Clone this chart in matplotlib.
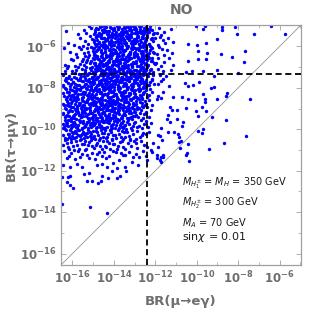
import numpy as np
import matplotlib
matplotlib.use("Agg")
import matplotlib.pyplot as plt
from matplotlib.ticker import FixedLocator, FuncFormatter, NullFormatter

# ---- data: (log10 BR(mu->e gamma), log10 BR(tau->mu gamma)) ----
band_50 = [(-16.31,-5.27),(-15.72,-5.41),(-15.08,-5.13),(-15.36,-5.38),(-15.21,-5.04),(-15.45,-5.22),
 (-14.52,-5.31),(-14.67,-5.08),(-14.81,-5.45),(-14.93,-5.19),(-14.59,-5.02),(-14.74,-5.36),(-14.88,-5.12),(-14.63,-5.47),(-14.97,-5.41),
 (-14.04,-5.22),(-14.18,-5.05),(-14.33,-5.39),(-14.46,-5.14),(-14.11,-5.46),(-14.27,-5.28),(-14.41,-5.01),(-14.09,-5.35),(-14.38,-5.24),(-14.22,-5.43),(-14.49,-5.33),
 (-13.51,-5.09),(-13.66,-5.33),(-13.79,-5.18),(-13.92,-5.44),(-13.57,-5.26),(-13.84,-5.03),(-13.71,-5.47),(-13.98,-5.21),(-13.62,-5.14),(-13.88,-5.31),(-13.75,-5.39),(-13.54,-5.42),
 (-13.03,-5.17),(-13.19,-5.41),(-13.31,-5.06),(-13.44,-5.29),(-13.12,-5.35),(-13.26,-5.22),(-13.39,-5.48),(-13.07,-5.02),(-13.48,-5.11),(-13.23,-5.04),(-13.35,-5.37),(-13.15,-5.26),
 (-12.53,-5.12),(-12.68,-5.36),(-12.81,-5.04),(-12.94,-5.28),(-12.59,-5.45),(-12.74,-5.19),(-12.87,-5.41),(-12.99,-5.08),(-12.62,-5.24),(-12.77,-5.31),(-12.91,-5.16),(-12.56,-5.38),
 (-12.43,-5.07),(-12.29,-5.33),(-12.41,-5.44),(-12.17,-5.21),(-12.35,-5.15),(-12.06,-5.38),(-12.47,-5.26),(-12.24,-5.02),
 (-11.58,-5.29),(-11.83,-5.11),(-11.71,-5.43),(-11.94,-5.35),(-11.26,-5.18)]
band_55 = [(-16.22,-5.83),(-15.63,-5.58),(-15.91,-5.92),
 (-15.04,-5.66),(-15.27,-5.89),(-15.14,-5.52),(-15.39,-5.74),(-15.47,-5.97),
 (-14.55,-5.61),(-14.71,-5.84),(-14.86,-5.53),(-14.98,-5.77),(-14.62,-5.95),(-14.79,-5.69),(-14.91,-5.88),(-14.53,-5.79),(-14.68,-5.51),(-14.84,-5.99),
 (-14.07,-5.56),(-14.21,-5.78),(-14.34,-5.63),(-14.47,-5.91),(-14.13,-5.86),(-14.28,-5.54),(-14.42,-5.72),(-14.02,-5.94),(-14.16,-5.67),(-14.39,-5.98),(-14.25,-5.89),(-14.49,-5.59),
 (-13.53,-5.71),(-13.67,-5.55),(-13.82,-5.87),(-13.95,-5.62),(-13.59,-5.96),(-13.74,-5.78),(-13.89,-5.51),(-13.64,-5.83),(-13.97,-5.93),(-13.78,-5.66),(-13.56,-5.58),(-13.86,-5.74),
 (-13.05,-5.64),(-13.18,-5.86),(-13.32,-5.53),(-13.46,-5.77),(-13.11,-5.95),(-13.27,-5.71),(-13.41,-5.92),(-13.02,-5.81),(-13.36,-5.59),(-13.22,-5.51),(-13.49,-5.68),(-13.14,-5.73),
 (-12.51,-5.76),(-12.66,-5.54),(-12.79,-5.89),(-12.93,-5.63),(-12.57,-5.94),(-12.72,-5.69),(-12.85,-5.57),(-12.98,-5.85),(-12.61,-5.61),(-12.76,-5.98),(-12.89,-5.72),(-12.54,-5.84),
 (-12.45,-5.62),(-12.32,-5.87),(-12.39,-5.53),(-12.12,-5.74),(-12.27,-5.96),(-12.48,-5.79),(-12.03,-5.58),(-12.21,-5.66),
 (-11.62,-5.69),(-11.87,-5.93),(-11.54,-5.82),(-11.78,-5.55),(-11.14,-5.77),(-11.39,-5.61)]
band_60 = [(-16.12,-6.28),(-16.41,-6.07),(-15.57,-6.14),(-15.82,-6.39),(-15.69,-6.02),
 (-15.03,-6.21),(-15.18,-6.44),(-15.31,-6.09),(-15.44,-6.33),(-15.11,-6.03),(-15.26,-6.26),(-15.38,-6.47),
 (-14.51,-6.04),(-14.64,-6.29),(-14.78,-6.13),(-14.92,-6.41),(-14.57,-6.36),(-14.71,-6.01),(-14.85,-6.23),(-14.99,-6.08),(-14.61,-6.17),(-14.83,-6.46),(-14.95,-6.31),
 (-14.03,-6.12),(-14.17,-6.37),(-14.31,-6.05),(-14.44,-6.28),(-14.09,-6.44),(-14.23,-6.19),(-14.37,-6.41),(-14.48,-6.02),(-14.14,-6.25),(-14.29,-6.48),(-14.41,-6.15),(-14.06,-6.33),
 (-13.52,-6.23),(-13.65,-6.07),(-13.81,-6.38),(-13.94,-6.16),(-13.58,-6.43),(-13.72,-6.29),(-13.87,-6.04),(-13.99,-6.34),(-13.61,-6.11),(-13.77,-6.46),(-13.91,-6.26),(-13.55,-6.35),
 (-13.04,-6.31),(-13.17,-6.09),(-13.33,-6.42),(-13.47,-6.18),(-13.09,-6.05),(-13.24,-6.27),(-13.38,-6.01),(-13.01,-6.45),(-13.29,-6.36),(-13.43,-6.49),(-13.13,-6.14),(-13.21,-6.39),
 (-12.52,-6.17),(-12.65,-6.41),(-12.82,-6.06),(-12.96,-6.29),(-12.58,-6.02),(-12.71,-6.33),(-12.86,-6.45),(-12.93,-6.13),(-12.63,-6.24),(-12.78,-6.19),(-12.89,-6.37),(-12.55,-6.48),
 (-12.44,-6.21),(-12.36,-6.46),(-12.18,-6.08),(-12.31,-6.31),(-12.47,-6.03),(-12.09,-6.27),(-12.26,-6.16),(-12.41,-6.38),
 (-11.66,-6.12),(-11.92,-6.35),(-11.57,-6.42),(-11.81,-6.05),(-11.21,-6.31),(-11.44,-6.18)]
band_65 = [(-16.08,-6.62),(-16.34,-6.88),(-16.19,-6.97),
 (-15.54,-6.71),(-15.77,-6.53),(-15.88,-6.94),(-15.61,-6.86),(-15.96,-6.66),
 (-15.02,-6.57),(-15.16,-6.81),(-15.29,-6.64),(-15.42,-6.92),(-15.07,-6.99),(-15.23,-6.52),(-15.35,-6.76),(-15.48,-6.61),(-15.12,-6.73),
 (-14.54,-6.68),(-14.66,-6.91),(-14.81,-6.55),(-14.94,-6.79),(-14.58,-6.52),(-14.73,-6.84),(-14.87,-6.97),(-14.97,-6.63),(-14.62,-6.74),(-14.76,-6.59),(-14.89,-6.88),(-14.52,-6.96),
 (-14.05,-6.74),(-14.19,-6.53),(-14.32,-6.86),(-14.46,-6.61),(-14.11,-6.95),(-14.26,-6.69),(-14.39,-6.51),(-14.01,-6.83),(-14.15,-6.58),(-14.43,-6.92),(-14.28,-6.99),(-14.22,-6.77),
 (-13.54,-6.59),(-13.68,-6.82),(-13.83,-6.51),(-13.96,-6.73),(-13.59,-6.94),(-13.73,-6.66),(-13.88,-6.89),(-13.63,-6.54),(-13.79,-6.97),(-13.92,-6.62),(-13.52,-6.79),(-13.85,-6.71),
 (-13.06,-6.77),(-13.19,-6.55),(-13.34,-6.88),(-13.48,-6.64),(-13.12,-6.93),(-13.25,-6.62),(-13.41,-6.98),(-13.03,-6.53),(-13.37,-6.71),(-13.16,-6.85),(-13.29,-6.51),(-13.45,-6.81),
 (-12.54,-6.63),(-12.69,-6.87),(-12.83,-6.56),(-12.97,-6.78),(-12.61,-6.99),(-12.74,-6.72),(-12.88,-6.94),(-12.51,-6.84),(-12.66,-6.52),(-12.79,-6.61),(-12.92,-6.69),(-12.57,-6.76),
 (-12.42,-6.67),(-12.33,-6.91),(-12.15,-6.58),(-12.46,-6.82),(-12.28,-6.54),(-12.07,-6.79),(-12.38,-6.97),(-12.22,-6.71),
 (-11.59,-6.74),(-11.85,-6.58),(-11.73,-6.93),(-11.96,-6.81),(-11.17,-6.89),(-11.33,-6.57)]
band_70 = [(-16.03,-7.18),(-16.27,-7.04),(-16.44,-7.36),(-16.15,-7.42),(-16.36,-7.21),
 (-15.52,-7.09),(-15.67,-7.33),(-15.81,-7.14),(-15.94,-7.46),(-15.59,-7.41),(-15.74,-7.02),(-15.87,-7.27),
 (-15.01,-7.24),(-15.14,-7.06),(-15.28,-7.38),(-15.41,-7.16),(-15.06,-7.47),(-15.19,-7.29),(-15.33,-7.01),(-15.46,-7.43),(-15.09,-7.12),(-15.24,-7.35),(-15.37,-7.22),
 (-14.56,-7.13),(-14.69,-7.37),(-14.82,-7.05),(-14.96,-7.28),(-14.51,-7.44),(-14.64,-7.21),(-14.77,-7.48),(-14.91,-7.09),(-14.59,-7.31),(-14.86,-7.17),(-14.73,-7.02),(-14.98,-7.41),
 (-14.04,-7.26),(-14.18,-7.08),(-14.31,-7.42),(-14.47,-7.19),(-14.12,-7.34),(-14.24,-7.01),(-14.38,-7.29),(-14.08,-7.47),(-14.21,-7.15),(-14.35,-7.06),(-14.49,-7.39),(-14.16,-7.23),
 (-13.53,-7.32),(-13.66,-7.11),(-13.81,-7.45),(-13.95,-7.18),(-13.57,-7.04),(-13.71,-7.27),(-13.86,-7.36),(-13.99,-7.07),(-13.62,-7.48),(-13.76,-7.15),(-13.91,-7.24),(-13.55,-7.19),
 (-13.02,-7.14),(-13.16,-7.38),(-13.31,-7.06),(-13.44,-7.31),(-13.08,-7.27),(-13.23,-7.49),(-13.36,-7.17),(-13.49,-7.03),(-13.13,-7.02),(-13.27,-7.22),(-13.42,-7.44),(-13.05,-7.41),
 (-12.52,-7.28),(-12.67,-7.06),(-12.81,-7.39),(-12.95,-7.13),(-12.58,-7.17),(-12.72,-7.44),(-12.86,-7.21),(-12.99,-7.34),(-12.63,-7.01),(-12.77,-7.26),(-12.91,-7.47),(-12.55,-7.11),
 (-12.44,-7.16),(-12.37,-7.41),(-12.19,-7.07),(-12.29,-7.29),(-12.48,-7.35),(-12.11,-7.23),(-12.41,-7.02),
 (-11.64,-7.21),(-11.89,-7.08),(-11.76,-7.39),(-11.23,-7.12),(-11.47,-7.43)]
band_75 = [(-16.05,-7.57),(-16.21,-7.79),(-16.38,-7.62),(-16.11,-7.93),(-16.46,-7.86),(-16.29,-7.53),
 (-15.53,-7.66),(-15.68,-7.88),(-15.83,-7.55),(-15.97,-7.73),(-15.58,-7.97),(-15.72,-7.61),(-15.86,-7.82),(-15.64,-7.51),(-15.91,-7.94),
 (-15.04,-7.54),(-15.17,-7.77),(-15.32,-7.64),(-15.45,-7.89),(-15.09,-7.96),(-15.22,-7.58),(-15.36,-7.83),(-15.49,-7.69),(-15.13,-7.72),(-15.27,-7.92),(-15.41,-7.52),(-15.02,-7.84),
 (-14.53,-7.58),(-14.67,-7.81),(-14.82,-7.53),(-14.95,-7.76),(-14.59,-7.92),(-14.72,-7.65),(-14.86,-7.98),(-14.99,-7.61),(-14.63,-7.71),(-14.77,-7.86),(-14.91,-7.57),(-14.55,-7.83),
 (-14.03,-7.69),(-14.17,-7.52),(-14.32,-7.84),(-14.45,-7.61),(-14.08,-7.91),(-14.23,-7.74),(-14.37,-7.56),(-14.01,-7.98),(-14.14,-7.63),(-14.28,-7.95),(-14.42,-7.78),(-14.19,-7.87),
 (-13.52,-7.77),(-13.67,-7.55),(-13.82,-7.88),(-13.96,-7.64),(-13.58,-7.93),(-13.73,-7.71),(-13.87,-7.52),(-13.61,-7.62),(-13.78,-7.97),(-13.93,-7.81),(-13.54,-7.59),(-13.84,-7.68),
 (-13.05,-7.62),(-13.18,-7.85),(-13.33,-7.54),(-13.47,-7.78),(-13.11,-7.97),(-13.26,-7.69),(-13.39,-7.91),(-13.02,-7.75),(-13.35,-7.63),(-13.21,-7.51),(-13.44,-7.58),(-13.14,-7.82),
 (-12.53,-7.71),(-12.68,-7.53),(-12.83,-7.86),(-12.96,-7.62),(-12.59,-7.94),(-12.74,-7.67),(-12.88,-7.79),(-12.62,-7.58),(-12.79,-7.99),(-12.93,-7.54),(-12.56,-7.84),
 (-12.45,-7.64),(-12.34,-7.87),(-12.16,-7.56),(-12.47,-7.93),(-12.25,-7.72),(-12.08,-7.81),
 (-11.61,-7.59),(-11.86,-7.84),(-11.72,-7.68),(-11.36,-7.91)]
band_80 = [(-16.02,-8.13),(-16.17,-8.36),(-16.33,-8.04),(-16.47,-8.27),(-16.09,-8.45),(-16.24,-8.19),(-16.39,-8.41),(-16.13,-8.08),
 (-15.51,-8.22),(-15.65,-8.06),(-15.79,-8.38),(-15.93,-8.14),(-15.56,-8.47),(-15.71,-8.29),(-15.85,-8.02),(-15.98,-8.33),(-15.62,-8.12),(-15.76,-8.44),(-15.89,-8.24),
 (-15.03,-8.17),(-15.16,-8.39),(-15.29,-8.07),(-15.43,-8.31),(-15.08,-8.48),(-15.21,-8.23),(-15.34,-8.01),(-15.47,-8.42),(-15.12,-8.05),(-15.25,-8.34),(-15.39,-8.18),(-15.05,-8.28),
 (-14.54,-8.05),(-14.68,-8.27),(-14.83,-8.12),(-14.97,-8.39),(-14.57,-8.44),(-14.71,-8.16),(-14.85,-8.31),(-14.93,-8.02),(-14.61,-8.21),(-14.79,-8.47),(-14.89,-8.07),(-14.52,-8.34),
 (-14.06,-8.21),(-14.19,-8.03),(-14.33,-8.35),(-14.48,-8.12),(-14.12,-8.43),(-14.26,-8.26),(-14.41,-8.07),(-14.03,-8.38),(-14.15,-8.14),(-14.29,-8.46),(-14.44,-8.29),(-14.22,-8.09),
 (-13.51,-8.14),(-13.66,-8.37),(-13.81,-8.06),(-13.94,-8.28),(-13.57,-8.42),(-13.72,-8.19),(-13.86,-8.45),(-13.98,-8.11),(-13.63,-8.25),(-13.77,-8.03),(-13.91,-8.36),(-13.54,-8.31),
 (-13.04,-8.26),(-13.17,-8.08),(-13.32,-8.41),(-13.46,-8.17),(-13.09,-8.49),(-13.24,-8.32),(-13.38,-8.05),(-13.01,-8.15),(-13.28,-8.23),(-13.42,-8.38),(-13.13,-8.02),(-13.49,-8.46),
 (-12.54,-8.18),(-12.69,-8.41),(-12.84,-8.07),(-12.97,-8.29),(-12.61,-8.03),(-12.76,-8.34),(-12.89,-8.47),(-12.57,-8.26),(-12.72,-8.13),(-12.94,-8.44),
 (-12.46,-8.09),(-12.31,-8.33),(-12.42,-8.44),(-12.14,-8.21),(-12.27,-8.06),(-11.63,-8.19),(-11.88,-8.38)]
band_85 = [(-16.04,-8.63),(-16.18,-8.87),(-16.32,-8.56),(-16.45,-8.79),(-16.07,-8.94),(-16.23,-8.71),(-16.37,-8.99),(-16.11,-8.52),(-16.28,-8.83),
 (-15.52,-8.58),(-15.66,-8.81),(-15.81,-8.65),(-15.95,-8.92),(-15.57,-8.97),(-15.72,-8.53),(-15.86,-8.76),(-15.99,-8.61),(-15.61,-8.73),(-15.77,-8.89),(-15.91,-8.54),(-15.54,-8.86),
 (-15.02,-8.67),(-15.15,-8.91),(-15.31,-8.59),(-15.44,-8.82),(-15.07,-8.54),(-15.22,-8.77),(-15.36,-8.96),(-15.48,-8.63),(-15.11,-8.72),(-15.26,-8.51),(-15.41,-8.69),(-15.18,-8.98),
 (-14.55,-8.73),(-14.68,-8.56),(-14.84,-8.89),(-14.96,-8.64),(-14.51,-8.97),(-14.63,-8.81),(-14.78,-8.52),(-14.92,-8.76),(-14.58,-8.61),(-14.73,-8.94),(-14.87,-8.68),(-14.99,-8.85),
 (-14.04,-8.58),(-14.17,-8.82),(-14.32,-8.66),(-14.46,-8.93),(-14.09,-8.74),(-14.24,-8.51),(-14.38,-8.79),(-14.02,-8.97),(-14.13,-8.64),(-14.27,-8.88),(-14.43,-8.57),(-14.21,-8.71),
 (-13.53,-8.67),(-13.68,-8.91),(-13.82,-8.55),(-13.95,-8.78),(-13.59,-8.53),(-13.74,-8.84),(-13.88,-8.62),(-13.62,-8.96),(-13.79,-8.73),(-13.93,-8.99),(-13.56,-8.81),(-13.85,-8.59),
 (-13.06,-8.71),(-13.19,-8.54),(-13.34,-8.86),(-13.47,-8.62),(-13.11,-8.93),(-13.25,-8.77),(-13.39,-8.52),(-13.03,-8.84),(-13.29,-8.98),(-13.43,-8.69),(-13.15,-8.61),
 (-12.52,-8.64),(-12.66,-8.87),(-12.81,-8.56),(-12.95,-8.79),(-12.58,-8.95),(-12.73,-8.68),(-12.87,-8.91),(-12.63,-8.53),(-12.91,-8.62),
 (-12.44,-8.76),(-12.29,-8.58),(-12.41,-8.93),(-12.17,-8.84)]
band_90 = [(-16.03,-9.12),(-16.16,-9.35),(-16.31,-9.04),(-16.44,-9.27),(-16.08,-9.46),(-16.22,-9.19),(-16.36,-9.41),(-16.12,-9.07),(-16.27,-9.31),
 (-15.53,-9.06),(-15.67,-9.29),(-15.82,-9.14),(-15.96,-9.38),(-15.58,-9.43),(-15.71,-9.21),(-15.87,-9.02),(-15.92,-9.47),(-15.62,-9.33),(-15.76,-9.09),(-15.89,-9.25),(-15.55,-9.18),
 (-15.04,-9.23),(-15.17,-9.05),(-15.32,-9.37),(-15.45,-9.13),(-15.08,-9.44),(-15.23,-9.28),(-15.37,-9.01),(-15.49,-9.34),(-15.13,-9.16),(-15.27,-9.48),(-15.41,-9.22),(-15.01,-9.39),
 (-14.53,-9.16),(-14.67,-9.39),(-14.82,-9.08),(-14.95,-9.31),(-14.57,-9.02),(-14.71,-9.26),(-14.86,-9.45),(-14.98,-9.12),(-14.61,-9.34),(-14.76,-9.19),(-14.91,-9.04),(-14.55,-9.47),
 (-14.05,-9.31),(-14.18,-9.09),(-14.33,-9.42),(-14.47,-9.18),(-14.11,-9.02),(-14.25,-9.25),(-14.39,-9.36),(-14.02,-9.14),(-14.15,-9.48),(-14.29,-9.07),(-14.43,-9.29),(-14.21,-9.43),
 (-13.52,-9.21),(-13.67,-9.44),(-13.81,-9.11),(-13.94,-9.34),(-13.58,-9.05),(-13.73,-9.27),(-13.87,-9.49),(-13.97,-9.17),(-13.63,-9.38),(-13.78,-9.02),(-13.91,-9.24),
 (-13.05,-9.17),(-13.19,-9.41),(-13.33,-9.06),(-13.46,-9.29),(-13.09,-9.35),(-13.24,-9.12),(-13.38,-9.46),(-13.02,-9.03),(-13.28,-9.23),(-13.43,-9.14),
 (-12.54,-9.27),(-12.68,-9.08),(-12.83,-9.39),(-12.96,-9.16),(-12.59,-9.45),(-12.74,-9.21),(-12.88,-9.03),(-12.92,-9.33),
 (-12.43,-9.19),(-12.32,-9.42),(-12.22,-9.07)]
band_95 = [(-16.05,-9.61),(-16.19,-9.84),(-16.34,-9.53),(-16.47,-9.76),(-16.09,-9.93),(-16.24,-9.68),(-16.39,-9.91),(-16.13,-9.57),(-16.29,-9.79),
 (-15.51,-9.72),(-15.66,-9.55),(-15.81,-9.88),(-15.94,-9.64),(-15.56,-9.97),(-15.71,-9.81),(-15.85,-9.52),(-15.98,-9.86),(-15.61,-9.63),(-15.77,-9.94),(-15.89,-9.73),
 (-15.03,-9.56),(-15.16,-9.79),(-15.31,-9.67),(-15.44,-9.91),(-15.07,-9.84),(-15.22,-9.53),(-15.36,-9.76),(-15.48,-9.59),(-15.12,-9.69),(-15.27,-9.95),(-15.41,-9.82),
 (-14.54,-9.66),(-14.68,-9.89),(-14.83,-9.58),(-14.97,-9.81),(-14.58,-9.53),(-14.73,-9.74),(-14.87,-9.96),(-14.62,-9.86),(-14.78,-9.62),(-14.92,-9.69),(-14.51,-9.92),
 (-14.03,-9.77),(-14.17,-9.54),(-14.32,-9.87),(-14.46,-9.63),(-14.08,-9.95),(-14.23,-9.71),(-14.37,-9.51),(-14.13,-9.83),(-14.28,-9.59),(-14.42,-9.93),(-14.01,-9.62),
 (-13.54,-9.58),(-13.69,-9.81),(-13.83,-9.66),(-13.96,-9.92),(-13.59,-9.87),(-13.74,-9.55),(-13.88,-9.78),(-13.63,-9.71),(-13.92,-9.53),(-13.56,-9.96),
 (-13.04,-9.69),(-13.18,-9.92),(-13.33,-9.57),(-13.47,-9.81),(-13.12,-9.52),(-13.26,-9.76),(-13.41,-9.97),(-13.07,-9.86),(-13.36,-9.63),
 (-12.55,-9.74),(-12.71,-9.56),(-12.86,-9.89),(-12.97,-9.65),(-12.62,-9.94),(-12.79,-9.82),
 (-12.45,-9.62),(-12.36,-9.88),(-12.19,-9.71)]
band_100 = [(-16.04,-10.14),(-16.18,-10.37),(-16.33,-10.06),(-16.46,-10.28),(-16.08,-10.45),(-16.23,-10.21),(-16.38,-10.41),(-16.12,-10.02),
 (-15.53,-10.23),(-15.68,-10.05),(-15.82,-10.38),(-15.96,-10.16),(-15.57,-10.46),(-15.72,-10.29),(-15.87,-10.09),(-15.63,-10.34),(-15.91,-10.43),
 (-15.02,-10.07),(-15.17,-10.31),(-15.31,-10.18),(-15.45,-10.42),(-15.08,-10.36),(-15.23,-10.04),(-15.38,-10.26),(-15.12,-10.21),(-15.47,-10.11),
 (-14.56,-10.19),(-14.69,-10.43),(-14.84,-10.08),(-14.97,-10.32),(-14.61,-10.03),(-14.75,-10.27),(-14.89,-10.47),(-14.52,-10.36),(-14.79,-10.14),
 (-14.05,-10.29),(-14.19,-10.06),(-14.34,-10.39),(-14.47,-10.17),(-14.11,-10.48),(-14.26,-10.23),(-14.41,-10.02),(-14.15,-10.11),(-14.38,-10.44),
 (-13.52,-10.12),(-13.67,-10.35),(-13.81,-10.04),(-13.95,-10.27),(-13.58,-10.46),(-13.73,-10.21),(-13.88,-10.41),(-13.62,-10.07),
 (-13.06,-10.24),(-13.21,-10.47),(-13.35,-10.13),(-13.48,-10.36),(-13.11,-10.05),(-13.28,-10.31),(-13.42,-10.09),
 (-12.57,-10.17),(-12.73,-10.39),(-12.88,-10.08),(-12.64,-10.28),(-12.95,-10.45),(-12.44,-10.22),(-12.28,-10.11)]
band_105 = [(-16.06,-10.62),(-16.21,-10.85),(-16.37,-10.54),(-16.14,-10.97),(-16.43,-10.76),(-16.28,-10.68),
 (-15.54,-10.71),(-15.69,-10.93),(-15.83,-10.58),(-15.97,-10.81),(-15.61,-10.52),(-15.76,-10.77),(-15.92,-10.99),
 (-15.04,-10.83),(-15.19,-10.61),(-15.33,-10.94),(-15.46,-10.69),(-15.11,-10.53),(-15.26,-10.78),(-15.41,-10.57),
 (-14.53,-10.58),(-14.67,-10.81),(-14.82,-10.66),(-14.96,-10.92),(-14.59,-10.97),(-14.74,-10.54),(-14.88,-10.74),
 (-14.04,-10.72),(-14.18,-10.95),(-14.32,-10.56),(-14.45,-10.83),(-14.09,-10.51),(-14.25,-10.66),(-14.39,-10.88),
 (-13.55,-10.86),(-13.69,-10.63),(-13.84,-10.97),(-13.97,-10.71),(-13.61,-10.55),(-13.79,-10.82),
 (-13.03,-10.59),(-13.17,-10.82),(-13.32,-10.67),(-13.46,-10.94),(-13.24,-10.53),
 (-12.56,-10.76),(-12.71,-10.57),(-12.86,-10.91),(-12.93,-10.64),(-12.41,-10.87)]
band_110 = [(-16.07,-11.16),(-16.26,-11.38),(-16.41,-11.07),(-16.17,-11.29),
 (-15.55,-11.21),(-15.73,-11.04),(-15.88,-11.42),(-15.64,-11.33),
 (-15.06,-11.13),(-15.21,-11.37),(-15.39,-11.02),(-15.29,-11.24),
 (-14.57,-11.31),(-14.72,-11.09),(-14.91,-11.44),(-14.81,-11.18),
 (-14.03,-11.06),(-14.22,-11.27),(-14.36,-11.41),(-14.48,-11.12),
 (-13.58,-11.23),(-13.76,-11.46),(-13.89,-11.08),(-13.67,-11.15),
 (-13.08,-11.34),(-13.27,-11.11),(-13.44,-11.26),
 (-12.59,-11.07),(-12.78,-11.32),(-12.91,-11.19),(-12.46,-11.28)]
core_extra_a = [(-14.60,-5.40),(-14.75,-5.15),(-14.90,-5.32),(-14.55,-5.22),(-14.83,-5.48),(-14.68,-5.03),
 (-14.14,-5.11),(-14.29,-5.37),(-14.46,-5.20),(-14.02,-5.44),(-14.37,-5.07),(-14.21,-5.27),
 (-13.58,-5.30),(-13.73,-5.05),(-13.94,-5.42),(-13.81,-5.17),(-13.62,-5.47),(-13.98,-5.10),
 (-13.16,-5.21),(-13.35,-5.01),(-13.00,-5.34),(-13.27,-5.46),(-13.43,-5.28),(-13.20,-5.12),
 (-12.60,-5.40),(-12.75,-5.15),(-12.90,-5.32),(-12.55,-5.22),(-12.83,-5.48),(-12.68,-5.03),
 (-14.64,-5.61),(-14.79,-5.87),(-14.96,-5.70),(-14.52,-5.94),(-14.87,-5.57),(-14.71,-5.77),
 (-14.08,-5.80),(-14.23,-5.55),(-14.44,-5.92),(-14.31,-5.67),(-14.12,-5.97),(-14.48,-5.60),
 (-13.66,-5.71),(-13.85,-5.51),(-13.50,-5.84),(-13.77,-5.96),(-13.93,-5.78),(-13.70,-5.62),
 (-13.10,-5.90),(-13.25,-5.65),(-13.40,-5.82),(-13.05,-5.72),(-13.33,-5.98),(-13.18,-5.53),
 (-12.64,-5.61),(-12.79,-5.87),(-12.96,-5.70),(-12.52,-5.94),(-12.87,-5.57),(-12.71,-5.77),
 (-14.58,-6.30),(-14.73,-6.05),(-14.94,-6.42),(-14.81,-6.17),(-14.62,-6.47),(-14.98,-6.10),
 (-14.16,-6.21),(-14.35,-6.01),(-14.00,-6.34),(-14.27,-6.46),(-14.43,-6.28),(-14.20,-6.12),
 (-13.60,-6.40),(-13.75,-6.15),(-13.90,-6.32),(-13.55,-6.22),(-13.83,-6.48),(-13.68,-6.03),
 (-13.14,-6.11),(-13.29,-6.37),(-13.46,-6.20),(-13.02,-6.44),(-13.37,-6.07),(-13.21,-6.27),
 (-12.58,-6.30),(-12.73,-6.05),(-12.94,-6.42),(-12.81,-6.17),(-12.62,-6.47),(-12.98,-6.10),
 (-14.66,-6.71),(-14.85,-6.51),(-14.50,-6.84),(-14.77,-6.96),(-14.93,-6.78),(-14.70,-6.62),
 (-14.10,-6.90),(-14.25,-6.65),(-14.40,-6.82),(-14.05,-6.72),(-14.33,-6.98),(-14.18,-6.53),
 (-13.64,-6.61),(-13.79,-6.87),(-13.96,-6.70),(-13.52,-6.94),(-13.87,-6.57),(-13.71,-6.77),
 (-13.08,-6.80),(-13.23,-6.55),(-13.44,-6.92),(-13.31,-6.67),(-13.12,-6.97),(-13.48,-6.60),
 (-12.66,-6.71),(-12.85,-6.51),(-12.50,-6.84),(-12.77,-6.96),(-12.93,-6.78),(-12.70,-6.62)]
core_extra_b = [(-14.60,-7.40),(-14.75,-7.15),(-14.90,-7.32),(-14.55,-7.22),(-14.83,-7.48),(-14.68,-7.03),
 (-14.14,-7.11),(-14.29,-7.37),(-14.46,-7.20),(-14.02,-7.44),(-14.37,-7.07),(-14.21,-7.27),
 (-13.58,-7.30),(-13.73,-7.05),(-13.94,-7.42),(-13.81,-7.17),(-13.62,-7.47),(-13.98,-7.10),
 (-13.16,-7.21),(-13.35,-7.01),(-13.00,-7.34),(-13.27,-7.46),(-13.43,-7.28),(-13.20,-7.12),
 (-12.60,-7.40),(-12.75,-7.15),(-12.90,-7.32),(-12.55,-7.22),(-12.83,-7.48),(-12.68,-7.03),
 (-14.64,-7.61),(-14.79,-7.87),(-14.96,-7.70),(-14.52,-7.94),(-14.87,-7.57),(-14.71,-7.77),
 (-14.08,-7.80),(-14.23,-7.55),(-14.44,-7.92),(-14.31,-7.67),(-14.12,-7.97),(-14.48,-7.60),
 (-13.66,-7.71),(-13.85,-7.51),(-13.50,-7.84),(-13.77,-7.96),(-13.93,-7.78),(-13.70,-7.62),
 (-13.10,-7.90),(-13.25,-7.65),(-13.40,-7.82),(-13.05,-7.72),(-13.33,-7.98),(-13.18,-7.53),
 (-12.64,-7.61),(-12.79,-7.87),(-12.96,-7.70),(-12.52,-7.94),(-12.87,-7.57),(-12.71,-7.77),
 (-14.58,-8.30),(-14.73,-8.05),(-14.94,-8.42),(-14.81,-8.17),(-14.62,-8.47),(-14.98,-8.10),
 (-14.16,-8.21),(-14.35,-8.01),(-14.00,-8.34),(-14.27,-8.46),(-14.43,-8.28),(-14.20,-8.12),
 (-13.60,-8.40),(-13.75,-8.15),(-13.90,-8.32),(-13.55,-8.22),(-13.83,-8.48),(-13.68,-8.03),
 (-13.14,-8.11),(-13.29,-8.37),(-13.46,-8.20),(-13.02,-8.44),(-13.37,-8.07),(-13.21,-8.27),
 (-12.58,-8.30),(-12.73,-8.05),(-12.94,-8.42),(-12.81,-8.17),(-12.62,-8.47),(-12.98,-8.10),
 (-14.66,-8.71),(-14.85,-8.51),(-14.50,-8.84),(-14.77,-8.96),(-14.93,-8.78),(-14.70,-8.62),
 (-14.10,-8.90),(-14.25,-8.65),(-14.40,-8.82),(-14.05,-8.72),(-14.33,-8.98),(-14.18,-8.53),
 (-13.64,-8.61),(-13.79,-8.87),(-13.96,-8.70),(-13.52,-8.94),(-13.87,-8.57),(-13.71,-8.77),
 (-13.08,-8.80),(-13.23,-8.55),(-13.44,-8.92),(-13.31,-8.67),(-13.12,-8.97),(-13.48,-8.60),
 (-12.66,-8.71),(-12.85,-8.51),(-12.50,-8.84),(-12.77,-8.96),
 (-14.60,-9.40),(-14.75,-9.15),(-14.90,-9.32),(-14.55,-9.22),(-14.83,-9.48),(-14.68,-9.03),
 (-14.14,-9.11),(-14.29,-9.37),(-14.46,-9.20),(-14.02,-9.44),(-14.37,-9.07),(-14.21,-9.27),
 (-13.58,-9.30),(-13.73,-9.05),(-13.94,-9.42),(-13.81,-9.17),(-13.62,-9.47),(-13.98,-9.10),
 (-13.16,-9.21),(-13.35,-9.01),(-13.00,-9.34),(-13.27,-9.46),
 (-14.64,-9.61),(-14.79,-9.87),(-14.96,-9.70),(-14.52,-9.94),(-14.87,-9.57),(-14.71,-9.77),
 (-14.08,-9.80),(-14.23,-9.55),(-14.44,-9.92),(-14.31,-9.67),(-14.12,-9.97),(-14.48,-9.60),
 (-13.66,-9.71),(-13.85,-9.51),(-13.50,-9.84),(-13.77,-9.96)]
left_extra = [(-15.10,-7.90),(-15.25,-7.65),(-15.40,-7.82),(-15.05,-7.72),(-15.64,-7.61),(-15.79,-7.87),(-15.96,-7.70),(-15.52,-7.94),
 (-16.08,-7.80),(-16.23,-7.55),(-16.44,-7.92),(-16.31,-7.67),
 (-15.14,-8.11),(-15.29,-8.37),(-15.46,-8.20),(-15.02,-8.44),(-15.58,-8.30),(-15.73,-8.05),(-15.94,-8.42),(-15.81,-8.17),
 (-16.16,-8.21),(-16.35,-8.01),(-16.00,-8.34),(-16.27,-8.46),
 (-15.08,-8.80),(-15.23,-8.55),(-15.44,-8.92),(-15.31,-8.67),(-15.66,-8.71),(-15.85,-8.51),(-15.50,-8.84),(-15.77,-8.96),
 (-16.10,-8.90),(-16.25,-8.65),(-16.40,-8.82),(-16.05,-8.72),
 (-15.16,-9.21),(-15.35,-9.01),(-15.00,-9.34),(-15.27,-9.46),(-15.60,-9.40),(-15.75,-9.15),(-15.90,-9.32),(-15.55,-9.22),
 (-16.14,-9.11),(-16.29,-9.37),(-16.46,-9.20),(-16.02,-9.44),
 (-15.10,-9.90),(-15.25,-9.65),(-15.40,-9.82),(-15.05,-9.72),(-15.64,-9.61),(-15.79,-9.87),(-15.96,-9.70),(-15.52,-9.94),
 (-16.08,-9.80),(-16.23,-9.55),(-16.44,-9.92),(-16.31,-9.67),
 (-15.14,-10.11),(-15.29,-10.37),(-15.46,-10.20),(-15.02,-10.44),(-15.58,-10.30),(-15.73,-10.05),(-15.94,-10.42),(-15.81,-10.17),
 (-16.16,-10.21),(-16.35,-10.01),(-16.00,-10.34),(-16.27,-10.46)]
right_extra = [(-12.10,-5.40),(-12.25,-5.15),(-12.40,-5.32),(-12.14,-5.61),(-12.29,-5.87),(-12.46,-5.70),
 (-12.08,-6.30),(-12.23,-6.05),(-12.44,-6.42),(-12.16,-6.71),(-12.35,-6.51),(-12.00,-6.84),
 (-12.10,-7.40),(-12.25,-7.15),(-12.40,-7.32),(-12.14,-7.61),(-12.29,-7.87),(-12.46,-7.70)]
sparse_upper = [(-9.69,-5.16),(-8.77,-5.05),(-8.77,-5.21),(-8.16,-5.05),(-6.42,-5.02),(-7.24,-5.42),(-5.72,-5.41),
 (-10.04,-5.04),(-9.58,-5.03),(-8.06,-5.40),
 (-9.00,-5.65),(-9.53,-5.86),(-10.01,-5.94),(-10.44,-5.89),(-7.68,-6.23),(-8.29,-6.53),(-8.83,-6.39),(-9.49,-6.34),
 (-9.93,-6.23),(-9.96,-6.63),(-10.41,-6.71),(-9.53,-6.63),(-7.72,-6.74),(-9.04,-7.14),(-9.69,-7.19),(-10.52,-7.22),
 (-10.25,-7.17),(-8.03,-7.30),(-9.17,-7.43),(-9.16,-7.95),(-9.32,-8.03),(-9.90,-7.70),(-10.17,-7.86),(-10.41,-7.91),
 (-10.57,-7.78),(-8.53,-8.23),(-8.59,-8.40),(-9.69,-8.30),(-9.61,-8.52),(-9.00,-8.52),(-7.44,-8.54)]
sparse_middle = [(-11.13,-8.43),(-10.73,-8.43),(-10.41,-8.54),(-10.09,-8.59),(-9.61,-8.70),(-11.73,-8.51),(-11.94,-8.54),
 (-11.29,-8.91),(-11.21,-9.07),(-10.97,-9.07),(-10.54,-8.99),(-10.06,-9.11),(-9.73,-8.91),(-9.53,-9.12),(-9.93,-9.36),
 (-11.37,-9.31),(-11.45,-9.52),(-11.29,-9.64),(-10.97,-9.52),(-10.65,-9.67),(-10.73,-9.83),(-9.28,-9.39),(-8.61,-9.56),
 (-11.73,-9.96),(-11.09,-10.15),(-10.89,-10.25),(-10.84,-10.36),(-11.41,-10.15),(-11.86,-10.28),(-11.78,-10.33),
 (-9.96,-10.07),(-9.69,-9.99),(-9.73,-10.17),(-11.66,-10.52),(-10.86,-10.60),(-10.76,-10.57),(-10.41,-10.73),
 (-10.81,-10.92),(-7.60,-10.31),(-8.69,-10.65),(-9.40,-10.95),(-10.49,-11.16),(-10.54,-11.24),(-10.36,-11.52),
 (-11.62,-11.24),(-11.73,-11.32),(-11.94,-11.37),(-11.73,-11.57),(-11.89,-10.84),(-12.21,-11.00),(-12.10,-10.68),
 (-12.17,-11.08),(-11.93,-11.24),(-11.61,-11.32),(-11.77,-11.48)]
sparse_lower = [(-16.44,-11.72),(-16.11,-11.80),(-15.76,-11.68),(-15.55,-11.80),(-14.83,-11.72),(-14.59,-11.68),
 (-14.35,-11.80),(-14.02,-11.64),(-13.83,-11.88),(-13.46,-11.84),(-13.14,-11.56),(-12.82,-11.72),(-12.42,-11.48),
 (-16.50,-12.32),(-16.23,-12.29),(-16.12,-12.25),(-16.28,-12.53),(-16.12,-12.69),(-15.96,-12.85),(-15.43,-12.16),
 (-15.20,-12.09),(-15.31,-12.48),(-15.04,-12.48),(-14.78,-12.61),(-14.59,-12.25),(-14.62,-12.48),(-14.30,-12.37),
 (-13.85,-12.37),(-13.69,-12.24),(-13.42,-12.01),(-14.11,-12.01),
 (-16.49,-13.62),(-15.14,-13.77),(-14.33,-14.02)]

mu_e_limit = 4.2e-13      # vertical dashed line
tau_mu_limit = 4.4e-8     # horizontal dashed line
log_lo, log_hi = -16.55, -4.97
x_ticks = [-16, -14, -12, -10, -8, -6]
title = "NO"
xlabel = "BR(\u03bc\u2192e\u03b3)"
ylabel = "BR(\u03c4\u2192\u03bc\u03b3)"
annot = [r"$M_{H_1^{\pm}}$ = $M_H$ = 350 GeV",
         r"$M_{H_2^{\pm}}$ = 300 GeV",
         r"$M_A$ = 70 GeV",
         r"sin$\chi$ = 0.01"]

groups = [band_50, band_55, band_60, band_65, band_70, band_75, band_80, band_85, band_90,
          band_95, band_100, band_105, band_110, core_extra_a, core_extra_b, left_extra, right_extra,
          sparse_upper, sparse_middle, sparse_lower]
pts = np.array([p for g in groups for p in g])
x = 10.0 ** pts[:, 0]
y = 10.0 ** pts[:, 1]

GRAY = "#6e6e6e"
plt.rcParams["font.family"] = ["DejaVu Sans"]
plt.rcParams["mathtext.fontset"] = "dejavusans"

fig = plt.figure(figsize=(3.27, 3.12), dpi=100)
ax = fig.add_axes([61/327, 1-265/312, 240/327, 240/312])

lo, hi = 10.0**log_lo, 10.0**log_hi
ax.set_xscale("log")
ax.set_yscale("log")
ax.set_xlim(lo, hi)
ax.set_ylim(lo, hi)

ax.scatter(x, y, s=6, c="#0000ff", linewidths=0, zorder=2)
ax.plot([lo, hi], [lo, hi], color="#a0a0a0", lw=0.7, zorder=1)
ax.axvline(mu_e_limit, color="black", lw=1.3, ls=(0, (3.4, 2.0)), zorder=3)
ax.axhline(tau_mu_limit, color="black", lw=1.3, ls=(0, (3.4, 2.0)), zorder=3)

major = [10.0**e for e in x_ticks]
minor = [10.0**(e+1) for e in x_ticks]
fmt = FuncFormatter(lambda v, p: r"$\mathbf{10^{%d}}$" % int(round(np.log10(v))))
for axis in (ax.xaxis, ax.yaxis):
    axis.set_major_locator(FixedLocator(major))
    axis.set_minor_locator(FixedLocator(minor))
    axis.set_major_formatter(fmt)
    axis.set_minor_formatter(NullFormatter())
ax.tick_params(which="both", direction="in", top=True, right=True, color="#a0a0a0")
ax.tick_params(which="major", length=3.5, width=0.6, labelsize=8.5, labelcolor=GRAY, pad=3.5)
ax.tick_params(which="minor", length=2, width=0.5)
for sp in ax.spines.values():
    sp.set_color("#a0a0a0")
    sp.set_linewidth(0.9)

fig.text(181/327, 1-10/312, title, ha="center", va="center", fontsize=10, fontweight="bold", color=GRAY)
fig.text(181/327, 1-302/312, xlabel, ha="center", va="center", fontsize=9.5, fontweight="bold", color=GRAY)
fig.text(11/327, 1-145/312, ylabel, ha="center", va="center", fontsize=9.5, fontweight="bold", color=GRAY, rotation=90)

ys = [0.342, 0.258, 0.175, 0.117]
sizes = [7, 7, 7, 8]
for t, yy, fs in zip(annot, ys, sizes):
    ax.text(0.505, yy, t, transform=ax.transAxes, ha="left", va="center", fontsize=fs, color="#1a1a1a")

fig.savefig("out.png", dpi=100)
